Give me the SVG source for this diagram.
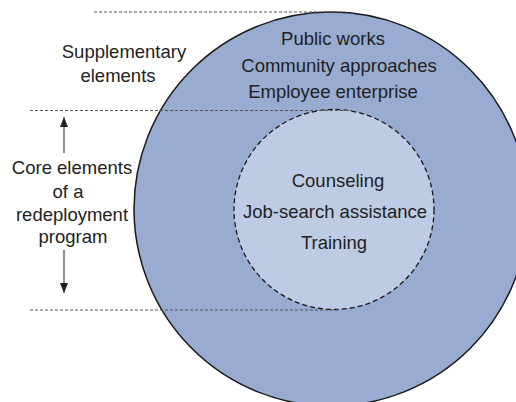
<svg xmlns="http://www.w3.org/2000/svg" width="516" height="402" viewBox="0 0 516 402">
  <defs>
    <marker id="head" markerWidth="10" markerHeight="8" refX="10" refY="4" orient="auto" markerUnits="userSpaceOnUse" viewBox="0 0 10 8">
      <path d="M0,0 L10,4 L0,8 Z" fill="#222"/>
    </marker>
    <style>
      text { font-family: "Liberation Sans", Arial, Helvetica, sans-serif; font-size: 18.5px; fill: #222; text-anchor: middle; }
      .guide { stroke: #555; stroke-width: 1; stroke-dasharray: 3 2; fill: none; }
      .arrow { stroke: #444; stroke-width: 1.2; fill: none; }
    </style>
  </defs>
  <rect width="516" height="402" fill="#ffffff"/>

  <!-- outer ring: supplementary elements -->
  <g id="supplementary">
    <circle cx="331" cy="209" r="197" fill="#98abd1" stroke="#1a1a1a" stroke-width="1.5"/>
    <text x="333" y="45">Public works</text>
    <text x="339" y="72">Community approaches</text>
    <text x="333" y="98">Employee enterprise</text>
  </g>

  <!-- inner disc: core elements -->
  <g id="core">
    <circle cx="334" cy="209.5" r="100" fill="#bdcbe4" stroke="#1a1a1a" stroke-width="1.3" stroke-dasharray="5 3"/>
    <text x="338" y="187">Counseling</text>
    <text x="335" y="218">Job-search assistance</text>
    <text x="334" y="249">Training</text>
  </g>

  <!-- side labels -->
  <g id="label-supplementary">
    <text x="124" y="58">Supplementary</text>
    <text x="118" y="82">elements</text>
  </g>
  <g id="label-core">
    <text x="72" y="174">Core elements</text>
    <text x="68" y="198">of a</text>
    <text x="72" y="221">redeployment</text>
    <text x="73" y="243">program</text>
  </g>

  <!-- connectors: guide lines and span arrows -->
  <g id="connectors">
    <line class="guide" x1="94" y1="12" x2="345" y2="12"/>
    <line class="guide" x1="30" y1="110.5" x2="352" y2="110.5"/>
    <line class="guide" x1="30" y1="310" x2="340" y2="310"/>
    <line class="arrow" x1="64" y1="153" x2="64" y2="117" marker-end="url(#head)"/>
    <line class="arrow" x1="64" y1="250" x2="64" y2="293" marker-end="url(#head)"/>
  </g>
</svg>
